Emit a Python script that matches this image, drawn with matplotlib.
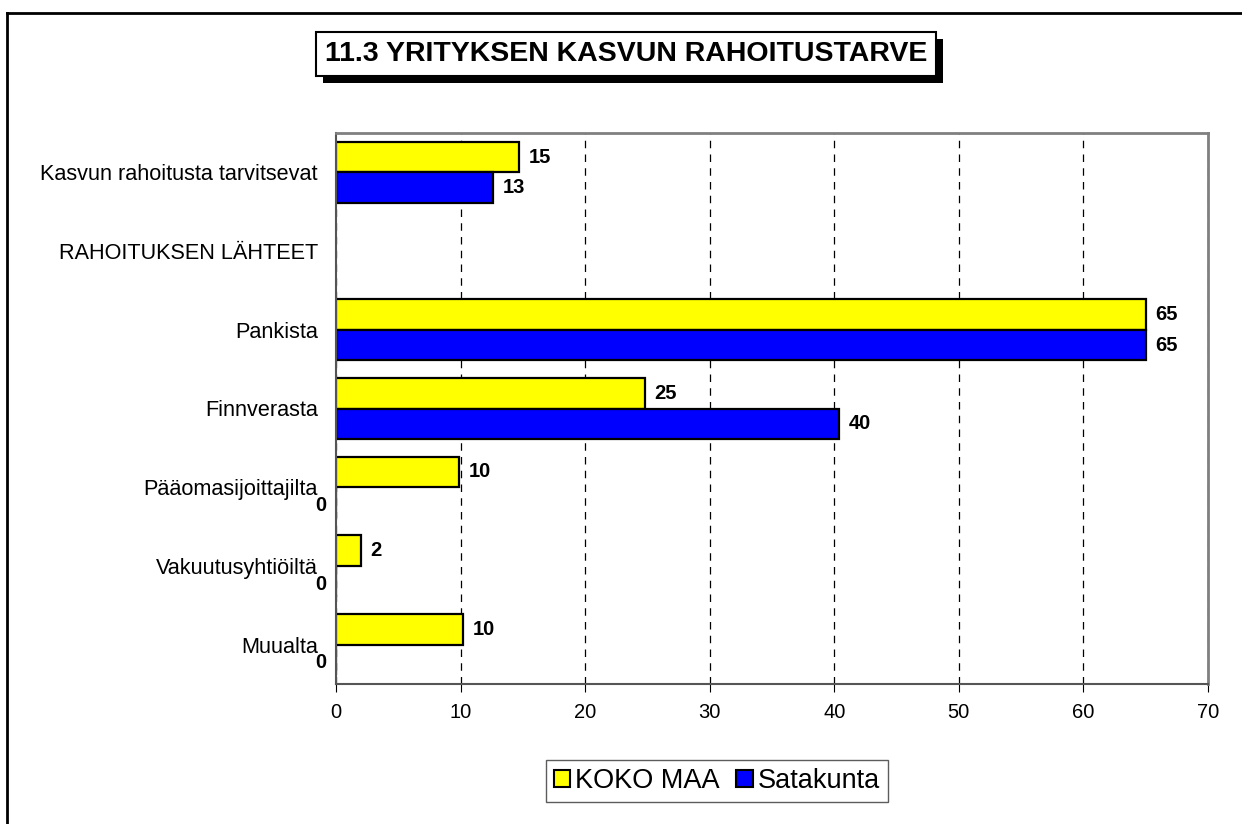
import numpy as np
import matplotlib
matplotlib.use("Agg")
import matplotlib.pyplot as plt
from matplotlib.patches import Rectangle, Patch
from matplotlib.lines import Line2D

plt.rcParams['font.family'] = ['Liberation Sans', 'DejaVu Sans']

categories = ["Kasvun rahoitusta tarvitsevat", "RAHOITUKSEN LÄHTEET", "Pankista",
              "Finnverasta", "Pääomasijoittajilta", "Vakuutusyhtiöiltä", "Muualta"]
koko_maa = [14.7, np.nan, 65, 24.8, 9.9, 2.0, 10.2]
satakunta = [12.6, np.nan, 65, 40.4, 0, 0, 0]
series_names = ["KOKO MAA", "Satakunta"]
title = "11.3 YRITYKSEN KASVUN RAHOITUSTARVE"

fig = plt.figure(figsize=(12.42, 8.24), dpi=100)
ax = fig.add_axes([336 / 1242, 1 - 684 / 824, 872 / 1242, 551 / 824])

y = np.arange(len(categories))
h = 0.39
ax.barh(y - h / 2, koko_maa, height=h, color='#ffff00', edgecolor='black', linewidth=1.6)
ax.barh(y + h / 2, satakunta, height=h, color='#0000ff', edgecolor='black', linewidth=1.6)

for vals, off in [(koko_maa, -h / 2), (satakunta, h / 2)]:
    for i, v in enumerate(vals):
        if np.isnan(v):
            continue
        if v == 0:
            ax.annotate("0", (0, y[i] + off), xytext=(-7, -2), textcoords='offset points',
                        ha='right', va='center', fontsize=14.5, fontweight='bold')
        else:
            ax.annotate(f"{v:.0f}", (v, y[i] + off), xytext=(7, 0), textcoords='offset points',
                        ha='left', va='center', fontsize=14.5, fontweight='bold')

ax.set_xlim(0, 70)
ax.set_ylim(len(categories) - 0.5, -0.5)
ax.set_xticks(range(0, 71, 10))
ax.set_yticks(y)
ax.set_yticklabels(categories, fontsize=15.6)
ax.tick_params(axis='y', length=0, pad=13)
ax.tick_params(axis='x', labelsize=14.5, direction='out', length=6, pad=8)
ax.xaxis.grid(True, linestyle=(0, (6, 5)), color='black', linewidth=0.9)
ax.set_axisbelow(True)
for s in ['top', 'right']:
    ax.spines[s].set_color('#808080')
    ax.spines[s].set_linewidth(2)
ax.spines['left'].set_color('#555555')
ax.spines['left'].set_linewidth(1.5)
ax.spines['bottom'].set_color('#555555')
ax.spines['bottom'].set_linewidth(1.5)

handles = [Patch(facecolor='#ffff00', edgecolor='black', linewidth=1.5),
           Patch(facecolor='#0000ff', edgecolor='black', linewidth=1.5)]
leg = fig.legend(handles, series_names, loc='center', bbox_to_anchor=(717 / 1242, 1 - 781 / 824),
                 ncol=2, fontsize=19.5, frameon=True, fancybox=False, edgecolor='#333333',
                 handlelength=0.6, handleheight=0.6, handletextpad=0.2, columnspacing=0.6,
                 borderpad=0.3)
leg.get_frame().set_linewidth(1.0)

t = fig.text(626 / 1242, 1 - 54 / 824, title, ha='center', va='center', fontsize=20.5,
             fontweight='bold',
             bbox=dict(boxstyle='square,pad=0.32', fc='white', ec='black', lw=1.5), zorder=5)
fig.canvas.draw()
bb = t.get_bbox_patch().get_window_extent()
shadow = Rectangle((bb.x0 + 7, bb.y0 - 7), bb.width, bb.height, transform=None,
                   facecolor='black', edgecolor='none', zorder=4)
fig.add_artist(shadow)

# outer chart frame
fig.add_artist(Line2D([7 / 1242, 7 / 1242], [0, 1 - 13 / 824], transform=fig.transFigure,
                      color='black', linewidth=2))
fig.add_artist(Line2D([7 / 1242, 1], [1 - 13 / 824, 1 - 13 / 824], transform=fig.transFigure,
                      color='black', linewidth=2))

fig.savefig("out.png", dpi=100)
